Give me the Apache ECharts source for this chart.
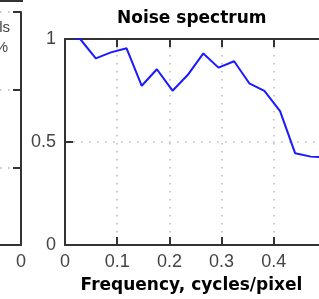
<!DOCTYPE html>
<html>
<head>
<meta charset="utf-8">
<script src="https://cdn.jsdelivr.net/npm/echarts@6/dist/echarts.min.js"></script>
<style>
  html, body { margin: 0; padding: 0; background: #fff; }
  #chart { width: 319px; height: 299px; }
</style>
</head>
<body>
<div id="chart"></div>
<script>
// frequency (cycles/pixel) and normalised noise power
var freq = [0, 0.029, 0.059, 0.088, 0.118, 0.147, 0.176, 0.206, 0.235,
            0.265, 0.294, 0.324, 0.353, 0.382, 0.412, 0.441, 0.471, 0.5];
var power = [1.02, 1.0, 0.906, 0.935, 0.955, 0.773, 0.853, 0.749, 0.825,
             0.930, 0.861, 0.892, 0.785, 0.748, 0.650, 0.445, 0.429, 0.425];

var chart = echarts.init(document.getElementById('chart'), null, { renderer: 'canvas' });

var axisCol = '#333';
var labelFont = { color: '#444', fontSize: 18, fontFamily: 'Liberation Sans' };
var dotted = { show: true, lineStyle: { color: '#b8b8b8', width: 1.5, type: [1.5, 6.5] } };

var points = freq.map(function (f, i) { return [f, power[i]]; });

var option = {
  animation: false,
  backgroundColor: '#fff',
  title: {
    text: 'Noise spectrum',
    left: 112,
    top: 5,
    textStyle: { fontFamily: 'DejaVu Sans', fontWeight: 'bold', fontSize: 17, color: '#000' }
  },
  grid: [
    // main plot (right edge falls outside the crop)
    { left: 65, right: -7, top: 39, bottom: 54, outerBoundsMode: 'none', containLabel: false },
    // neighbouring plot, only its right edge is visible
    { left: -200, right: 298, top: 12, bottom: 54, outerBoundsMode: 'none', containLabel: false }
  ],
  xAxis: [
    {
      gridIndex: 0, type: 'value', min: 0, max: 0.5, interval: 0.1,
      axisLine: { show: true, onZero: false, lineStyle: { color: axisCol, width: 2 } },
      axisTick: { show: true, inside: true, length: 8, lineStyle: { color: axisCol, width: 2 } },
      axisLabel: Object.assign({ margin: 8, showMaxLabel: false }, labelFont),
      splitLine: dotted,
      name: 'Frequency, cycles/pixel',
      nameLocation: 'middle',
      nameGap: 32,
      nameTextStyle: { fontFamily: 'DejaVu Sans', fontWeight: 'bold', fontSize: 17, color: '#000', padding: [0, 8, 0, 0] }
    },
    {
      gridIndex: 0, type: 'value', position: 'top', min: 0, max: 0.5, interval: 0.1,
      axisLine: { show: true, onZero: false, lineStyle: { color: axisCol, width: 2 } },
      axisTick: { show: true, inside: true, length: 8, lineStyle: { color: axisCol, width: 2 } },
      axisLabel: { show: false },
      splitLine: { show: false }
    },
    {
      gridIndex: 1, type: 'value', min: -10, max: 0, interval: 5,
      axisLine: { show: true, onZero: false, lineStyle: { color: axisCol, width: 2 } },
      axisTick: { show: false },
      axisLabel: Object.assign({ margin: 8 }, labelFont),
      splitLine: { show: false }
    }
  ],
  yAxis: [
    {
      gridIndex: 0, type: 'value', min: 0, max: 1, interval: 0.5,
      axisLine: { show: true, onZero: false, lineStyle: { color: axisCol, width: 2 } },
      axisTick: { show: true, inside: true, length: 8, lineStyle: { color: axisCol, width: 2 } },
      axisLabel: Object.assign({ margin: 9 }, labelFont),
      splitLine: dotted
    },
    {
      gridIndex: 1, type: 'value', position: 'right', min: 0, max: 3, interval: 1,
      axisLine: { show: true, onZero: false, lineStyle: { color: axisCol, width: 2 } },
      axisTick: { show: true, inside: true, length: 8, lineStyle: { color: axisCol, width: 2 } },
      axisLabel: { show: false },
      splitLine: dotted
    }
  ],
  series: [
    {
      type: 'line',
      xAxisIndex: 0,
      yAxisIndex: 0,
      data: points,
      symbol: 'none',
      clip: true,
      lineStyle: { color: '#1a1aff', width: 2 }
    }
  ],
  graphic: [
    { type: 'polyline', shape: { points: [[0, 1], [22, 1], [22, -2]] },
      style: { stroke: axisCol, lineWidth: 2, fill: null } },
    { type: 'text', x: 10, y: 20,
      style: { text: 'ls', align: 'right', fontSize: 15, fontFamily: 'Liberation Sans', fill: '#444' } },
    { type: 'text', x: 8, y: 40,
      style: { text: '%', align: 'right', fontSize: 15, fontFamily: 'Liberation Sans', fill: '#444' } }
  ]
};

chart.setOption(option);
</script>
</body>
</html>
